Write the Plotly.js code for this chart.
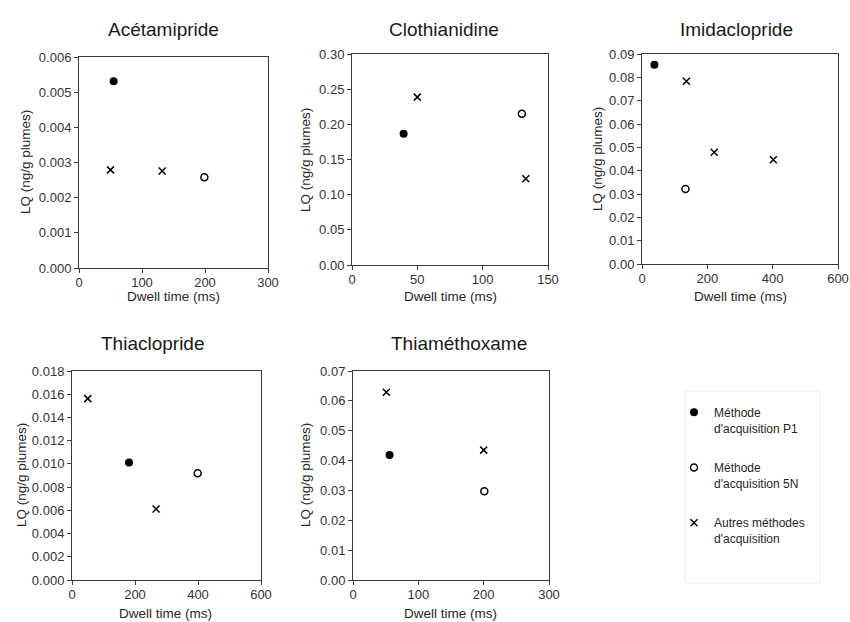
<!DOCTYPE html>
<html>
<head>
<meta charset="utf-8">
<script src="https://cdn.plot.ly/plotly-3.0.1.min.js"></script>
<style>
  html, body { margin: 0; padding: 0; background: #ffffff; }
  #chart { width: 850px; height: 622px; }
</style>
</head>
<body>
<div id="chart"></div>
<script>
// ---------------- DATA ----------------
const compounds = ['Acétamipride', 'Clothianidine', 'Imidaclopride', 'Thiaclopride', 'Thiaméthoxame'];

// Méthode d'acquisition P1 (filled circle)
const p1X = [55, 39.5, 38, 181, 56];
const p1Y = [0.00531, 0.1865, 0.0854, 0.01011, 0.0419];

// Méthode d'acquisition 5N (open circle)
const n5X = [199, 130, 133, 399, 201];
const n5Y = [0.00258, 0.215, 0.0321, 0.00919, 0.0297];

// Autres méthodes d'acquisition (cross)
const otherX = [[50, 132], [50, 133], [136, 221, 402], [50, 267], [51, 200]];
const otherY = [[0.00279, 0.00276], [0.2387, 0.1225], [0.0783, 0.0479, 0.0447], [0.01562, 0.00611], [0.0629, 0.0435]];

// axis settings
const xMax = [300, 150, 600, 600, 300];
const xStep = [100, 50, 200, 200, 100];
const yMax = [0.006, 0.30, 0.09, 0.018, 0.07];
const yStep = [0.001, 0.05, 0.01, 0.002, 0.01];
const yFormat = ['.3f', '.2f', '.2f', '.3f', '.2f'];

const seriesNames = [
  'Méthode<br>d\'acquisition P1',
  'Méthode<br>d\'acquisition 5N',
  'Autres méthodes<br>d\'acquisition'
];
const xTitle = 'Dwell time (ms)';
const yTitle = 'LQ (ng/g plumes)';

// ---------------- LAYOUT (pixel boxes) ----------------
const W = 850, H = 622;
const px = v => v / W;
const py = v => 1 - v / H;

// plot-area boxes [left, right, top, bottom] in px
const boxes = [
  [79, 268, 57, 268],
  [352, 548, 54, 265],
  [642, 838, 54, 264],
  [72, 261, 371, 580],
  [353, 549, 371, 580]
];
const titlePos = [[163, 30], [444, 30], [736, 30], [153, 343], [459, 343]];
const xTitlePos = [[173, 296], [450, 296], [740, 296], [165, 613], [450, 613]];
const yTitlePos = [[25, 162], [305, 160], [597, 159], [21, 475], [305, 475]];

const FONT = 'Liberation Sans, Arial, sans-serif';
const traces = [];
const layout = {
  width: W, height: H,
  margin: {l: 0, r: 0, t: 0, b: 0},
  paper_bgcolor: '#ffffff',
  plot_bgcolor: '#ffffff',
  font: {family: FONT, size: 12, color: '#262626'},
  showlegend: true,
  legend: {
    x: px(674), y: py(398), xanchor: 'left', yanchor: 'top',
    bgcolor: 'rgba(0,0,0,0)', borderwidth: 0,
    font: {family: FONT, size: 12, color: '#262626'},
    traceorder: 'grouped', tracegroupgap: 21, valign: 'top'
  },
  annotations: [],
  shapes: [
    {type: 'rect', xref: 'paper', yref: 'paper',
     x0: px(685), x1: px(820), y0: py(583), y1: py(391),
     line: {color: '#ececec', width: 1}, fillcolor: 'rgba(0,0,0,0)', layer: 'below'}
  ]
};

const groups = ['p1', 'n5', 'other'];

compounds.forEach((name, i) => {
  const xa = i === 0 ? 'x' : 'x' + (i + 1);
  const ya = i === 0 ? 'y' : 'y' + (i + 1);
  const b = boxes[i];

  traces.push({
    type: 'scatter', mode: 'markers', x: [p1X[i]], y: [p1Y[i]],
    xaxis: xa, yaxis: ya, name: seriesNames[0], legendgroup: groups[0],
    showlegend: i === 0, hoverinfo: 'skip',
    marker: {symbol: 'circle', size: 8, color: '#000000'}
  });
  traces.push({
    type: 'scatter', mode: 'markers', x: [n5X[i]], y: [n5Y[i]],
    xaxis: xa, yaxis: ya, name: seriesNames[1], legendgroup: groups[1],
    showlegend: i === 0, hoverinfo: 'skip',
    marker: {symbol: 'circle-open', size: 7, color: '#000000', line: {width: 1.5, color: '#000000'}}
  });
  traces.push({
    type: 'scatter', mode: 'markers', x: otherX[i], y: otherY[i],
    xaxis: xa, yaxis: ya, name: seriesNames[2], legendgroup: groups[2],
    showlegend: i === 0, hoverinfo: 'skip',
    marker: {symbol: 'x-thin-open', size: 7, color: '#000000', line: {width: 1.5, color: '#000000'}}
  });

  const axBase = {
    showgrid: false, zeroline: false, showline: true, mirror: true,
    linecolor: '#3a3a3a', linewidth: 1,
    ticks: 'outside', ticklen: 4, tickwidth: 1, tickcolor: '#3a3a3a',
    tickfont: {family: FONT, size: 13, color: '#333333'},
    fixedrange: true
  };
  const xKey = i === 0 ? 'xaxis' : 'xaxis' + (i + 1);
  const yKey = i === 0 ? 'yaxis' : 'yaxis' + (i + 1);
  layout[xKey] = Object.assign({}, axBase, {
    domain: [px(b[0]), px(b[1])], anchor: ya,
    range: [0, xMax[i]], tick0: 0, dtick: xStep[i], ticklabelstandoff: -2
  });
  layout[yKey] = Object.assign({}, axBase, {
    domain: [py(b[3]), py(b[2])], anchor: xa,
    range: [0, yMax[i]], tick0: 0, dtick: yStep[i], tickformat: yFormat[i]
  });

  layout.annotations.push({
    text: name, xref: 'paper', yref: 'paper',
    x: px(titlePos[i][0]), y: py(titlePos[i][1]), xanchor: 'center', yanchor: 'middle',
    showarrow: false, font: {family: FONT, size: 19, color: '#1a1a1a'}
  });
  layout.annotations.push({
    text: xTitle, xref: 'paper', yref: 'paper',
    x: px(xTitlePos[i][0]), y: py(xTitlePos[i][1]), xanchor: 'center', yanchor: 'middle',
    showarrow: false, font: {family: FONT, size: 13.5, color: '#262626'}
  });
  layout.annotations.push({
    text: yTitle, xref: 'paper', yref: 'paper', textangle: -90,
    x: px(yTitlePos[i][0]), y: py(yTitlePos[i][1]), xanchor: 'center', yanchor: 'middle',
    showarrow: false, font: {family: FONT, size: 13.5, color: '#262626'}
  });
});

Plotly.newPlot('chart', traces, layout, {displayModeBar: false, staticPlot: true});
</script>
</body>
</html>
